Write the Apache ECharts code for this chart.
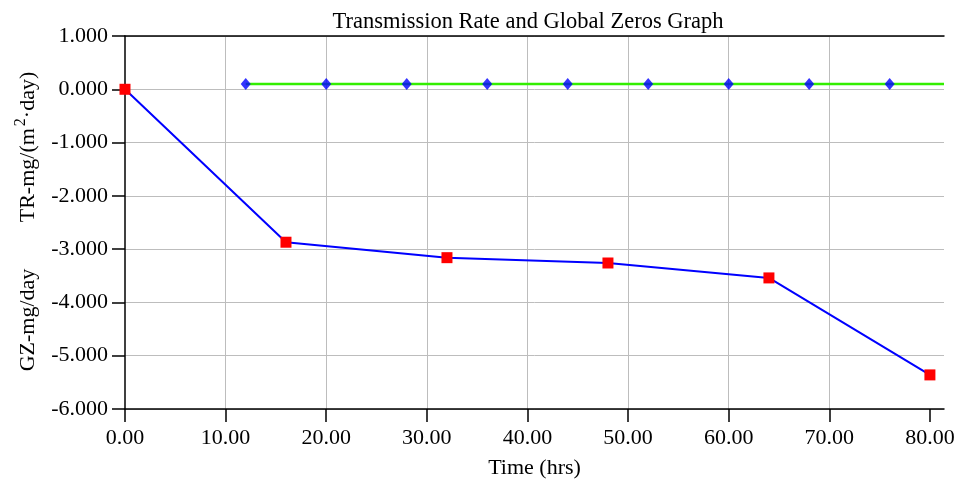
<!DOCTYPE html>
<html><head><meta charset="utf-8">
<script src="https://cdn.jsdelivr.net/npm/echarts@6/dist/echarts.min.js"></script>
<style>html,body{margin:0;padding:0;background:#fff}#c{width:958px;height:480px}</style>
</head><body><div id="c"></div>
<script>
const title = 'Transmission Rate and Global Zeros Graph';
const xName = 'Time (hrs)';
const yNameTRParts = ['TR-mg/(m', '2', '\u00B7day)'];
const yNameGZ = 'GZ-mg/day';
const xTicks = [0, 10, 20, 30, 40, 50, 60, 70, 80];
const xMin = 0, xMax = 81.4;
const yMin = -6, yMax = 1, yStep = 1;
const trTimes = [0, 16, 32, 48, 64, 80];
const trValues = [0, -2.87, -3.16, -3.26, -3.54, -5.36];
const gzTimes = [12, 20, 28, 36, 44, 52, 60, 68, 76];
const gzValues = [0.1, 0.1, 0.1, 0.1, 0.1, 0.1, 0.1, 0.1, 0.1];
const gzLineTimes = [12, 81.4];
const gzLineValues = [0.1, 0.1];

const font = 'Liberation Serif';
const chart = echarts.init(document.getElementById('c'));
const zip = (a, b) => a.map((v, i) => [v, b[i]]);
chart.setOption({
  animation: false,
  backgroundColor: '#fff',
  title: { text: title, left: 523, textAlign: 'center', top: 6,
    textStyle: { fontFamily: font, fontSize: 22.5, fontWeight: 'normal', color: '#000' } },
  grid: { left: 125, right: 14, top: 36, bottom: 71, outerBoundsMode: 'none' },
  xAxis: [{
    type: 'value', min: xMin, max: xMax, interval: 10,
    name: xName, nameLocation: 'middle', nameGap: 48,
    nameTextStyle: { fontFamily: font, fontSize: 22, color: '#000' },
    axisLine: { onZero: false, lineStyle: { color: '#000', width: 1.5 } },
    axisTick: { show: true, length: 13, lineStyle: { color: '#000', width: 1.5 }, customValues: xTicks },
    axisLabel: { fontFamily: font, fontSize: 22, color: '#000', margin: 18, customValues: xTicks,
      formatter: v => v.toFixed(2) },
    splitLine: { show: true, showMinLine: false, showMaxLine: false, lineStyle: { color: '#bdbdbd', width: 1 } }
  }, {
    type: 'value', position: 'top', min: xMin, max: xMax,
    axisLine: { show: true, onZero: false, lineStyle: { color: '#000', width: 1.5 } },
    axisTick: { show: false }, axisLabel: { show: false }, splitLine: { show: false }
  }],
  yAxis: {
    type: 'value', min: yMin, max: yMax, interval: yStep,
    axisLine: { show: true, onZero: false, lineStyle: { color: '#000', width: 1.5 } },
    axisTick: { show: true, length: 13, lineStyle: { color: '#000', width: 1.5 } },
    axisLabel: { fontFamily: font, fontSize: 22, color: '#000', margin: 17, formatter: v => v.toFixed(3) },
    splitLine: { show: true, lineStyle: { color: '#bdbdbd', width: 1 } }
  },
  graphic: [
    { type: 'text', x: 28, y: 147, rotation: Math.PI / 2,
      style: {
        text: '{a|' + yNameTRParts[0] + '}{s|' + yNameTRParts[1] + '}{a|' + yNameTRParts[2] + '}',
        align: 'center', verticalAlign: 'middle',
        rich: {
          a: { fontFamily: font, fontSize: 22, fill: '#000', color: '#000', lineHeight: 26 },
          s: { fontFamily: font, fontSize: 16, fill: '#000', color: '#000', padding: [0, 0, 14, 2], lineHeight: 26 }
        }
      } },
    { type: 'text', x: 28, y: 320, rotation: Math.PI / 2,
      style: { text: yNameGZ, font: '22px "Liberation Serif"', fill: '#000', align: 'center', verticalAlign: 'middle' } }
  ],
  series: [
    { type: 'line', data: zip(gzLineTimes, gzLineValues), showSymbol: false, symbol: 'none',
      lineStyle: { color: '#33ee00', width: 2.5 }, z: 2 },
    { type: 'scatter', data: zip(gzTimes, gzValues), symbol: 'diamond', symbolSize: [10, 12],
      itemStyle: { color: '#0000ff' }, z: 4 },
    { type: 'line', data: zip(trTimes, trValues), symbol: 'rect', symbolSize: 11, showAllSymbol: true,
      lineStyle: { color: '#0000ff', width: 2 }, itemStyle: { color: '#ff0000', borderWidth: 0 }, z: 3 }
  ]
});
</script></body></html>
